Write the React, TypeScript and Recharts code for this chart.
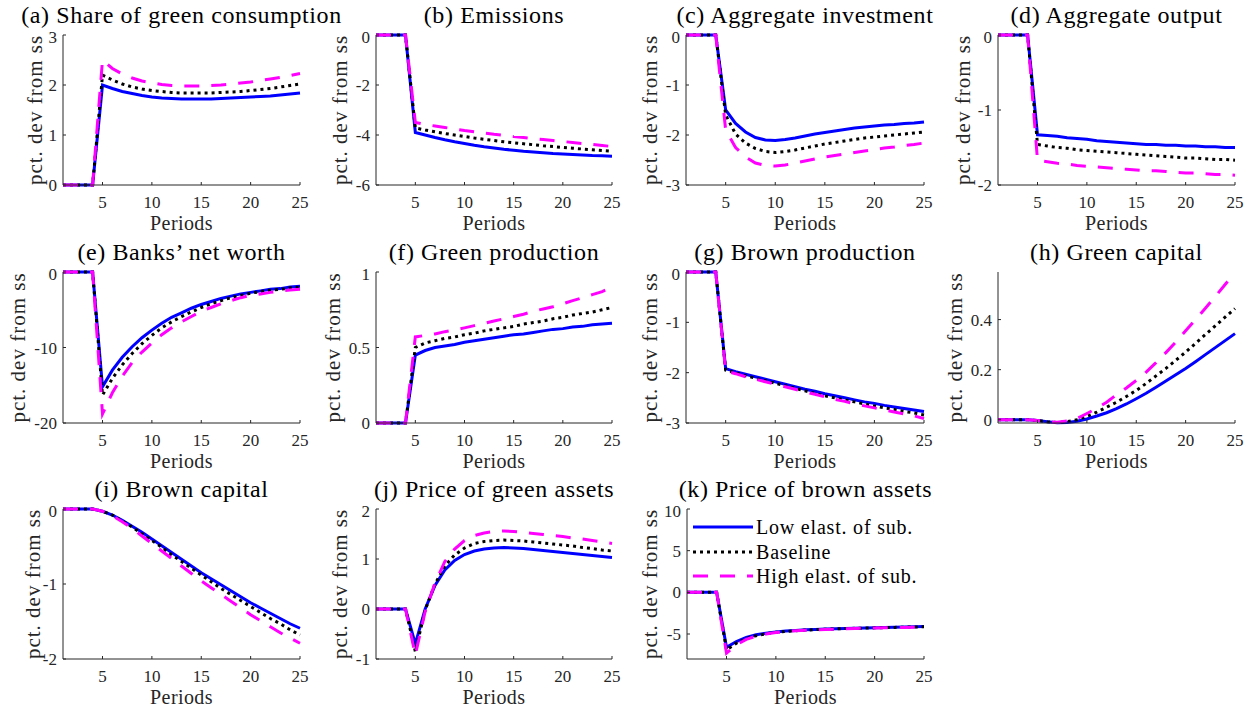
import React from "react";
import { LineChart, Line, XAxis, YAxis, Legend } from "recharts";

const periods = [1, 2, 3, 4, 5, 6, 7, 8, 9, 10, 11, 12, 13, 14, 15, 16, 17, 18, 19, 20, 21, 22, 23, 24, 25];
const xTicks = [5, 10, 15, 20, 25];

// (a) Share of green consumption
const shareLow = [0, 0, 0, 0, 2.0, 1.93, 1.87, 1.83, 1.79, 1.76, 1.74, 1.73, 1.72, 1.72, 1.72, 1.72, 1.73, 1.74, 1.75, 1.76, 1.77, 1.78, 1.8, 1.82, 1.84];
const shareBase = [0, 0, 0, 0, 2.2, 2.1, 2.02, 1.96, 1.92, 1.89, 1.87, 1.85, 1.84, 1.84, 1.84, 1.84, 1.85, 1.86, 1.87, 1.89, 1.91, 1.93, 1.96, 1.99, 2.02];
const shareHigh = [0, 0, 0, 0, 2.5, 2.33, 2.22, 2.14, 2.08, 2.04, 2.01, 1.99, 1.98, 1.98, 1.98, 1.99, 2.0, 2.02, 2.04, 2.06, 2.09, 2.12, 2.15, 2.19, 2.23];

// (b) Emissions
const emisLow = [0, 0, 0, 0, -3.9, -4.0, -4.1, -4.19, -4.27, -4.34, -4.41, -4.47, -4.52, -4.57, -4.61, -4.65, -4.68, -4.71, -4.74, -4.76, -4.78, -4.8, -4.82, -4.83, -4.85];
const emisBase = [0, 0, 0, 0, -3.72, -3.8, -3.87, -3.94, -4.0, -4.06, -4.12, -4.17, -4.22, -4.27, -4.31, -4.35, -4.39, -4.43, -4.46, -4.5, -4.53, -4.56, -4.59, -4.62, -4.65];
const emisHigh = [0, 0, 0, 0, -3.5, -3.58, -3.64, -3.7, -3.76, -3.82, -3.87, -3.92, -3.97, -4.01, -4.06, -4.1, -4.14, -4.18, -4.22, -4.26, -4.3, -4.34, -4.38, -4.42, -4.46];

// (c) Aggregate investment
const invLow = [0, 0, 0, 0, -1.5, -1.77, -1.94, -2.05, -2.1, -2.11, -2.09, -2.06, -2.02, -1.98, -1.95, -1.92, -1.89, -1.86, -1.84, -1.82, -1.8, -1.79, -1.77, -1.76, -1.74];
const invBase = [0, 0, 0, 0, -1.6, -1.98, -2.16, -2.27, -2.33, -2.35, -2.33, -2.3, -2.26, -2.22, -2.18, -2.15, -2.12, -2.09, -2.06, -2.04, -2.02, -2.0, -1.98, -1.96, -1.94];
const invHigh = [0, 0, 0, 0, -1.9, -2.25, -2.44, -2.56, -2.61, -2.62, -2.6, -2.56, -2.52, -2.48, -2.44, -2.41, -2.38, -2.35, -2.32, -2.29, -2.26, -2.24, -2.21, -2.19, -2.16];

// (d) Aggregate output
const outLow = [0, 0, 0, 0, -1.33, -1.34, -1.35, -1.37, -1.38, -1.39, -1.41, -1.42, -1.43, -1.44, -1.45, -1.46, -1.46, -1.47, -1.47, -1.48, -1.48, -1.49, -1.49, -1.5, -1.5];
const outBase = [0, 0, 0, 0, -1.46, -1.48, -1.5, -1.51, -1.53, -1.54, -1.55, -1.56, -1.57, -1.58, -1.59, -1.6, -1.61, -1.62, -1.63, -1.64, -1.64, -1.65, -1.66, -1.66, -1.67];
const outHigh = [0, 0, 0, 0, -1.67, -1.69, -1.71, -1.72, -1.74, -1.75, -1.76, -1.77, -1.78, -1.79, -1.8, -1.81, -1.81, -1.82, -1.83, -1.84, -1.84, -1.85, -1.86, -1.86, -1.87];

// (e) Banks' net worth
const nwLow = [0, 0, 0, 0, -15.2, -13.0, -11.3, -9.9, -8.7, -7.7, -6.8, -6.0, -5.4, -4.8, -4.3, -3.9, -3.5, -3.2, -2.9, -2.7, -2.5, -2.3, -2.2, -2.0, -1.9];
const nwBase = [0, 0, 0, 0, -16.3, -14.1, -12.3, -10.8, -9.5, -8.4, -7.4, -6.6, -5.9, -5.3, -4.7, -4.2, -3.8, -3.4, -3.1, -2.8, -2.6, -2.4, -2.3, -2.1, -2.0];
const nwHigh = [0, 0, 0, 0, -18.8, -16.0, -13.8, -12.0, -10.6, -9.4, -8.3, -7.4, -6.6, -5.9, -5.2, -4.7, -4.2, -3.8, -3.4, -3.1, -2.9, -2.7, -2.5, -2.4, -2.3];

// (f) Green production
const gpLow = [0, 0, 0, 0, 0.45, 0.48, 0.5, 0.51, 0.52, 0.535, 0.545, 0.555, 0.565, 0.575, 0.585, 0.59, 0.6, 0.61, 0.62, 0.625, 0.635, 0.64, 0.65, 0.655, 0.66];
const gpBase = [0, 0, 0, 0, 0.5, 0.53, 0.545, 0.56, 0.57, 0.585, 0.595, 0.61, 0.62, 0.63, 0.64, 0.655, 0.665, 0.675, 0.69, 0.7, 0.715, 0.725, 0.735, 0.75, 0.765];
const gpHigh = [0, 0, 0, 0, 0.57, 0.58, 0.59, 0.605, 0.615, 0.63, 0.645, 0.66, 0.675, 0.69, 0.705, 0.72, 0.74, 0.755, 0.77, 0.79, 0.81, 0.83, 0.85, 0.87, 0.9];

// (g) Brown production
const bpLow = [0, 0, 0, 0, -1.92, -1.98, -2.03, -2.08, -2.13, -2.18, -2.23, -2.28, -2.33, -2.37, -2.42, -2.46, -2.5, -2.54, -2.58, -2.61, -2.65, -2.68, -2.71, -2.74, -2.77];
const bpBase = [0, 0, 0, 0, -1.95, -2.0, -2.06, -2.11, -2.16, -2.21, -2.26, -2.31, -2.36, -2.41, -2.46, -2.5, -2.54, -2.58, -2.62, -2.66, -2.7, -2.73, -2.77, -2.8, -2.84];
const bpHigh = [0, 0, 0, 0, -1.97, -2.02, -2.08, -2.13, -2.18, -2.23, -2.28, -2.33, -2.38, -2.43, -2.48, -2.53, -2.57, -2.62, -2.66, -2.7, -2.74, -2.78, -2.82, -2.86, -2.91];

// (h) Green capital
const gkLow = [0, 0, 0, 0, -0.003, -0.008, -0.012, -0.011, -0.006, 0.003, 0.015, 0.028, 0.044, 0.063, 0.084, 0.106, 0.13, 0.155, 0.18, 0.205, 0.232, 0.26, 0.288, 0.316, 0.344];
const gkBase = [0, 0, 0, 0, -0.003, -0.008, -0.011, -0.007, 0.0, 0.013, 0.03, 0.05, 0.07, 0.093, 0.117, 0.145, 0.175, 0.205, 0.237, 0.27, 0.305, 0.34, 0.375, 0.41, 0.444];
const gkHigh = [0, 0, 0, 0, -0.003, -0.008, -0.01, -0.005, 0.005, 0.025, 0.045, 0.07, 0.1, 0.127, 0.157, 0.19, 0.228, 0.268, 0.31, 0.355, 0.4, 0.445, 0.492, 0.54, 0.588];

// (i) Brown capital
const bkLow = [0, 0, 0, 0, -0.03, -0.08, -0.15, -0.23, -0.31, -0.4, -0.49, -0.58, -0.67, -0.76, -0.85, -0.93, -1.01, -1.09, -1.17, -1.25, -1.32, -1.39, -1.46, -1.53, -1.59];
const bkBase = [0, 0, 0, 0, -0.03, -0.08, -0.16, -0.24, -0.33, -0.42, -0.51, -0.61, -0.7, -0.79, -0.88, -0.97, -1.06, -1.14, -1.22, -1.3, -1.38, -1.46, -1.53, -1.61, -1.68];
const bkHigh = [0, 0, 0, 0, -0.03, -0.09, -0.17, -0.26, -0.36, -0.46, -0.56, -0.66, -0.76, -0.86, -0.96, -1.05, -1.14, -1.23, -1.32, -1.41, -1.49, -1.57, -1.65, -1.72, -1.79];

// (j) Price of green assets
const pgLow = [0, 0, 0, 0, -0.7, 0.0, 0.47, 0.78, 0.97, 1.09, 1.16, 1.2, 1.22, 1.23, 1.22, 1.21, 1.19, 1.17, 1.15, 1.13, 1.11, 1.09, 1.07, 1.05, 1.03];
const pgBase = [0, 0, 0, 0, -0.85, -0.02, 0.5, 0.86, 1.08, 1.22, 1.31, 1.35, 1.37, 1.38, 1.37, 1.36, 1.34, 1.32, 1.3, 1.28, 1.26, 1.23, 1.21, 1.18, 1.16];
const pgHigh = [0, 0, 0, 0, -0.92, -0.05, 0.52, 0.95, 1.2, 1.37, 1.47, 1.52, 1.55, 1.56, 1.55, 1.53, 1.51, 1.49, 1.47, 1.45, 1.42, 1.4, 1.37, 1.34, 1.31];

// (k) Price of brown assets
const pbLow = [0, 0, 0, 0, -6.6, -5.9, -5.4, -5.1, -4.9, -4.75, -4.65, -4.57, -4.5, -4.45, -4.4, -4.36, -4.33, -4.3, -4.27, -4.24, -4.21, -4.18, -4.15, -4.12, -4.1];
const pbBase = [0, 0, 0, 0, -6.9, -6.1, -5.55, -5.2, -4.97, -4.8, -4.68, -4.6, -4.53, -4.48, -4.43, -4.39, -4.35, -4.32, -4.29, -4.26, -4.23, -4.21, -4.18, -4.16, -4.14];
const pbHigh = [0, 0, 0, 0, -7.3, -6.3, -5.65, -5.25, -5.0, -4.83, -4.7, -4.62, -4.55, -4.5, -4.45, -4.41, -4.37, -4.34, -4.31, -4.28, -4.26, -4.24, -4.22, -4.2, -4.18];

const series = [
  { key: "low", name: "Low elast. of sub.", color: "#0000ff", dash: undefined as string | undefined },
  { key: "base", name: "Baseline", color: "#000000", dash: "3 4" },
  { key: "high", name: "High elast. of sub.", color: "#ff00ff", dash: "15 12" },
];

const FONT = "'Liberation Serif', 'DejaVu Serif'";
const INK = "#262626";
const YW = 70; // y axis band width
const MT = 8;
const MR = 12;
const XH = 52;

const panels = [
  { title: "(a) Share of green consumption", low: shareLow, base: shareBase, high: shareHigh, domain: [0, 3], ticks: [0, 1, 2, 3], left: 63, top: 35, w: 237, h: 150, off: 28 },
  { title: "(b) Emissions", low: emisLow, base: emisBase, high: emisHigh, domain: [-6, 0], ticks: [-6, -4, -2, 0], left: 376, top: 35, w: 236, h: 150, off: 36 },
  { title: "(c) Aggregate investment", low: invLow, base: invBase, high: invHigh, domain: [-3, 0], ticks: [-3, -2, -1, 0], left: 686, top: 35, w: 238, h: 150, off: 36 },
  { title: "(d) Aggregate output", low: outLow, base: outBase, high: outHigh, domain: [-2, 0], ticks: [-2, -1, 0], left: 998, top: 35, w: 237, h: 150, off: 35 },
  { title: "(e) Banks\u2019 net worth", low: nwLow, base: nwBase, high: nwHigh, domain: [-20, 0], ticks: [-20, -10, 0], left: 63, top: 272, w: 237, h: 151, off: 45 },
  { title: "(f) Green production", low: gpLow, base: gpBase, high: gpHigh, domain: [0, 1], ticks: [0, 0.5, 1], left: 376, top: 272, w: 236, h: 151, off: 43 },
  { title: "(g) Brown production", low: bpLow, base: bpBase, high: bpHigh, domain: [-3, 0], ticks: [-3, -2, -1, 0], left: 686, top: 272, w: 238, h: 151, off: 36 },
  { title: "(h) Green capital", low: gkLow, base: gkBase, high: gkHigh, domain: [-0.013, 0.59], ticks: [0, 0.2, 0.4], left: 998, top: 272, w: 237, h: 151, off: 43 },
  { title: "(i) Brown capital", low: bkLow, base: bkBase, high: bkHigh, domain: [-2, 0], ticks: [-2, -1, 0], left: 63, top: 509, w: 237, h: 150, off: 30 },
  { title: "(j) Price of green assets", low: pgLow, base: pgBase, high: pgHigh, domain: [-1, 2], ticks: [-1, 0, 1, 2], left: 376, top: 509, w: 236, h: 150, off: 36 },
  { title: "(k) Price of brown assets", low: pbLow, base: pbBase, high: pbHigh, domain: [-8, 10], ticks: [-5, 0, 5, 10], left: 687, top: 509, w: 237, h: 150, off: 37, legend: true },
];

const YLabel = (props: any) => {
  const vb = props.viewBox || {};
  const cx = (vb.x ?? 0) + (vb.width ?? YW) - props.off;
  const cy = (vb.y ?? MT) + (vb.height ?? 150) / 2;
  return (
    <text
      x={cx}
      y={cy}
      transform={`rotate(-90, ${cx}, ${cy})`}
      textAnchor="middle"
      dominantBaseline="central"
      fill={INK}
      style={{ fontFamily: FONT, fontSize: 21, letterSpacing: 1 }}
    >
      pct. dev from ss
    </text>
  );
};

const XLabel = (props: any) => {
  const vb = props.viewBox || {};
  const cx = (vb.x ?? 0) + (vb.width ?? 0) / 2;
  const cy = (vb.y ?? 0) + 38;
  return (
    <text x={cx} y={cy} textAnchor="middle" dominantBaseline="central" fill={INK} style={{ fontFamily: FONT, fontSize: 20, letterSpacing: 0.4 }}>
      Periods
    </text>
  );
};

const LegendBox = () => (
  <div style={{ fontFamily: FONT }}>
    {series.map((s) => (
      <div key={s.key} style={{ display: "flex", alignItems: "center", height: 24.5, whiteSpace: "nowrap" }}>
        <svg width={62} height={10} style={{ flexShrink: 0 }}>
          <line x1={1} x2={61} y1={5} y2={5} stroke={s.color} strokeWidth={3} strokeDasharray={s.dash} />
        </svg>
        <span style={{ fontSize: 20, letterSpacing: 0.8, color: "#000", marginLeft: 2, lineHeight: "20px" }}>{s.name}</span>
      </div>
    ))}
  </div>
);

const Panel = ({ p }: { p: (typeof panels)[number] }) => {
  const data = periods.map((t, i) => ({ t, low: p.low[i], base: p.base[i], high: p.high[i] }));
  const width = YW + p.w + MR;
  const height = MT + p.h + XH;
  const tickStyle = { fontSize: 17, fill: INK, style: { fontFamily: FONT } };
  return (
    <div style={{ position: "absolute", left: p.left - YW, top: p.top - MT, width, height }}>
      <LineChart width={width} height={height} data={data} margin={{ top: MT, right: MR, left: 0, bottom: 0 }} style={{ fontFamily: FONT }}>
        <XAxis
          dataKey="t"
          type="number"
          domain={[1, 25]}
          ticks={xTicks}
          height={XH}
          tickSize={-3}
          tickMargin={14}
          axisLine={{ stroke: INK, strokeWidth: 1 }}
          tickLine={{ stroke: INK, strokeWidth: 1 }}
          tick={tickStyle}
          label={<XLabel />}
        />
        <YAxis
          type="number"
          domain={p.domain}
          ticks={p.ticks}
          width={YW}
          tickSize={-3}
          tickMargin={9}
          axisLine={{ stroke: INK, strokeWidth: 1 }}
          tickLine={{ stroke: INK, strokeWidth: 1 }}
          tick={tickStyle}
          label={<YLabel off={p.off} />}
        />
        {series.map((s) => (
          <Line
            key={s.key}
            dataKey={s.key}
            name={s.name}
            type="linear"
            stroke={s.color}
            strokeWidth={3}
            strokeDasharray={s.dash}
            dot={false}
            activeDot={false}
            isAnimationActive={false}
          />
        ))}
        {p.legend && (
          <Legend
            layout="vertical"
            align="center"
            verticalAlign="middle"
            content={<LegendBox />}
            wrapperStyle={{ left: 75, top: 14, width: 230 }}
          />
        )}
      </LineChart>
    </div>
  );
};

export default function App() {
  return (
    <div style={{ position: "absolute", left: 0, top: 0, width: 1253, height: 713, background: "#fff", fontFamily: FONT }}>
      {panels.map((p) => (
        <Panel key={p.title} p={p} />
      ))}
      <svg width={1253} height={713} style={{ position: "absolute", left: 0, top: 0, pointerEvents: "none" }}>
        {panels.map((p) => (
          <text
            key={p.title}
            x={p.left + p.w / 2}
            y={p.top - 12}
            textAnchor="middle"
            fill="#000"
            style={{ fontFamily: FONT, fontSize: 24, letterSpacing: 0.6 }}
          >
            {p.title}
          </text>
        ))}
      </svg>
    </div>
  );
}
